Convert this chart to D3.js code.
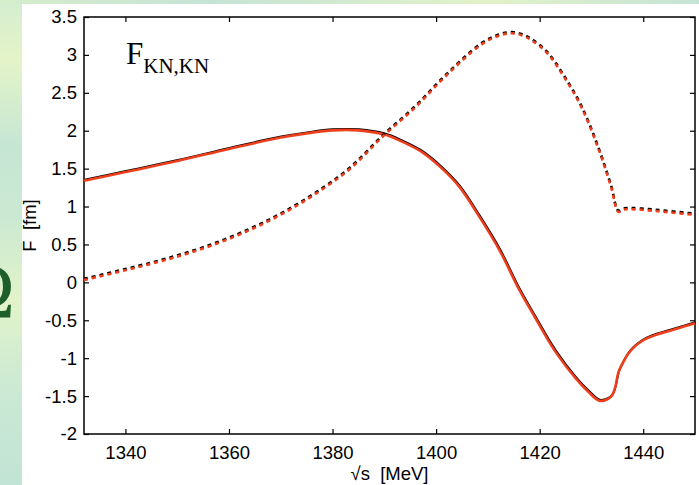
<!DOCTYPE html>
<html>
<head>
<meta charset="utf-8">
<script src="https://cdn.jsdelivr.net/npm/d3@7"></script>
<style>
  body { margin: 0; overflow: hidden; }
  svg { display: block; }
</style>
</head>
<body>
<script>
// real part (solid) : sqrt(s) in MeV, F in fm
var realE = [1332, 1340, 1350, 1360, 1370, 1375, 1380, 1385, 1390, 1393, 1397, 1401, 1404.5, 1408.3, 1412.2, 1416, 1419, 1423, 1427, 1429.5, 1431.5, 1433, 1434, 1434.6, 1435.2, 1436, 1437, 1438, 1439, 1440.5, 1442.5, 1445, 1447.5, 1450]
var realF = [1.34, 1.455, 1.60, 1.76, 1.91, 1.965, 2.005, 2.005, 1.95, 1.87, 1.73, 1.51, 1.26, 0.87, 0.43, -0.09, -0.45, -0.91, -1.27, -1.45, -1.56, -1.545, -1.49, -1.38, -1.19, -1.07, -0.95, -0.87, -0.81, -0.745, -0.69, -0.64, -0.59, -0.54]

// imaginary part (dotted)
var imagE = [1332, 1340, 1348, 1356, 1364, 1370.6, 1377, 1383.4, 1389.8, 1396, 1402, 1408.6, 1412, 1414.4, 1416.5, 1418.3, 1421.5, 1424.7, 1428, 1431.2, 1433.8, 1435.2, 1436.2, 1437.6, 1441, 1444.1, 1450]
var imagF = [0.03, 0.16, 0.30, 0.47, 0.69, 0.915, 1.18, 1.50, 1.93, 2.31, 2.73, 3.13, 3.25, 3.285, 3.26, 3.20, 3.02, 2.71, 2.32, 1.79, 1.26, 0.93, 0.96, 0.965, 0.95, 0.93, 0.89]

var xTicks = [1340, 1360, 1380, 1400, 1420, 1440]
var yTicks = [-2, -1.5, -1, -0.5, 0, 0.5, 1, 1.5, 2, 2.5, 3, 3.5]

var W = 699, H = 485
var pL = 84, pR = 695, pT = 17, pB = 434

var svg = d3.select('body').append('svg')
    .attr('width', W)
    .attr('height', H)

// slide background
var defs = svg.append('defs')
var gv = defs.append('linearGradient').attr('id', 'bgv')
    .attr('x1', 0).attr('y1', 0).attr('x2', 0).attr('y2', 1)
var stopsV = [[0, '#d4ecd0'], [0.12, '#e4f4c8'], [0.3, '#c6e6d4'], [0.45, '#cbe9d2'], [0.62, '#e2f3ca'], [0.8, '#cbe9d3'], [1, '#c2e4d6']]
stopsV.forEach(s => gv.append('stop').attr('offset', s[0]).attr('stop-color', s[1]))
var gh = defs.append('linearGradient').attr('id', 'bgh')
    .attr('x1', 0).attr('y1', 0).attr('x2', 1).attr('y2', 0)
var stopsH = [[0, '#d6eecc'], [0.3, '#c4e4d6'], [0.7, '#e2f2c8'], [1, '#c4e4d6']]
stopsH.forEach(s => gh.append('stop').attr('offset', s[0]).attr('stop-color', s[1]))

svg.append('rect').attr('width', W).attr('height', H).attr('fill', 'url(#bgv)')
svg.append('rect').attr('width', W).attr('height', 4).attr('fill', 'url(#bgh)')

// bit of a big letter from the slide behind
svg.append('text')
    .attr('x', 15).attr('y', 317)
    .attr('text-anchor', 'end')
    .attr('font-family', 'Liberation Serif, serif')
    .attr('font-size', 78)
    .attr('fill', '#1d5e2a')
    .text('Ω')

// white panel
svg.append('rect').attr('x', 22).attr('y', 4).attr('width', W - 22).attr('height', H - 4).attr('fill', '#fff')

var x = d3.scaleLinear().domain([1332, 1450]).range([pL, pR])
var y = d3.scaleLinear().domain([-2, 3.5]).range([pB, pT])

var fmt = d => String(d)

var axisFont = 'Liberation Sans, Arial, sans-serif'
var fs = 18.5

// axes, ticks pointing inward on all sides
var gx = svg.append('g').attr('transform', 'translate(0,' + pB + ')')
    .call(d3.axisBottom(x).tickValues(xTicks).tickFormat(fmt).tickSizeInner(-5).tickSizeOuter(0).tickPadding(12))
var gxt = svg.append('g').attr('transform', 'translate(0,' + pT + ')')
    .call(d3.axisTop(x).tickValues(xTicks).tickFormat('').tickSizeInner(-5).tickSizeOuter(0))
var gy = svg.append('g').attr('transform', 'translate(' + pL + ',0)')
    .call(d3.axisLeft(y).tickValues(yTicks).tickFormat(fmt).tickSizeInner(-5).tickSizeOuter(0).tickPadding(7))
var gyr = svg.append('g').attr('transform', 'translate(' + pR + ',0)')
    .call(d3.axisRight(y).tickValues(yTicks).tickFormat('').tickSizeInner(-5).tickSizeOuter(0))

;[gx, gxt, gy, gyr].forEach(g => {
    g.select('.domain').remove()
    g.selectAll('line').attr('stroke', '#000').attr('stroke-width', 1.2)
    g.selectAll('text').attr('font-family', axisFont).attr('font-size', fs).attr('fill', '#000')
})

svg.append('rect')
    .attr('x', pL).attr('y', pT)
    .attr('width', pR - pL).attr('height', pB - pT)
    .attr('fill', 'none').attr('stroke', '#000').attr('stroke-width', 1.5)

// curves
var plot = svg.append('g')
var line = d3.line().x(d => x(d[0])).y(d => y(d[1])).curve(d3.curveCatmullRom.alpha(0.5))
var realPts = realE.map((e, i) => [e, realF[i]])
var imagPts = imagE.map((e, i) => [e, imagF[i]])
var red = '#ee3f1c'

plot.append('path').datum(realPts).attr('d', line)
    .attr('transform', 'translate(0.5,-1)')
    .attr('fill', 'none').attr('stroke', '#000').attr('stroke-width', 2)
plot.append('path').datum(realPts).attr('d', line)
    .attr('fill', 'none').attr('stroke', red).attr('stroke-width', 2.6)

plot.append('path').datum(imagPts).attr('d', line)
    .attr('transform', 'translate(0,-1.2)')
    .attr('fill', 'none').attr('stroke', '#000').attr('stroke-width', 2.6)
    .attr('stroke-dasharray', '4,4')
plot.append('path').datum(imagPts).attr('d', line)
    .attr('fill', 'none').attr('stroke', red).attr('stroke-width', 2.6)
    .attr('stroke-dasharray', '4,4')

// labels
svg.append('text')
    .attr('x', (pL + pR) / 2).attr('y', 480)
    .attr('text-anchor', 'middle')
    .attr('font-family', axisFont).attr('font-size', fs)
    .attr('xml:space', 'preserve')
    .text('√s  [MeV]')

svg.append('text')
    .attr('transform', 'translate(36,' + ((pT + pB) / 2) + ') rotate(-90)')
    .attr('text-anchor', 'middle')
    .attr('font-family', axisFont).attr('font-size', fs)
    .attr('xml:space', 'preserve')
    .text('F  [fm]')

var title = svg.append('text')
    .attr('x', 126).attr('y', 64)
    .attr('font-family', 'Liberation Serif, Times New Roman, serif')
    .attr('font-size', 31)
title.append('tspan').text('F')
title.append('tspan').attr('dy', 9).attr('font-size', 21).text('KN,KN')
</script>
</body>
</html>
